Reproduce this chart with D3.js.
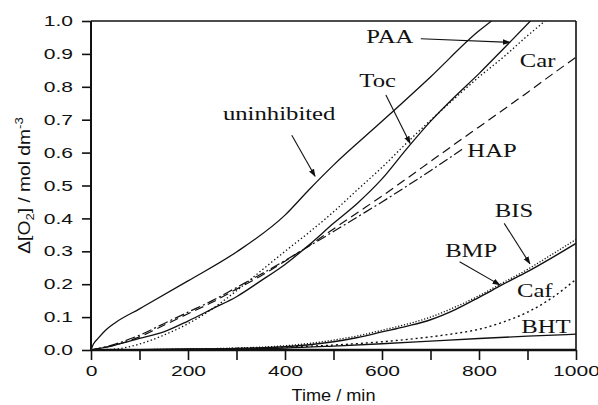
<!DOCTYPE html>
<html>
<head>
<meta charset="utf-8">
<script src="https://cdn.jsdelivr.net/npm/d3@7"></script>
<style>
  html, body { margin: 0; padding: 0; background: #fff; }
</style>
</head>
<body>
<svg id="chart" width="598" height="405"></svg>
<script>
// series values: [time / min, Δ[O2] / mol dm-3]
const uninhibited = [[0,0],[5,0.018],[15,0.036],[30,0.06],[50,0.083],[100,0.125],[200,0.21],[300,0.298],[400,0.41],[450,0.488],[500,0.562],[600,0.695],[700,0.83],[800,0.97],[826,1.0]];
const paa = [[0,0],[50,0.015],[100,0.035],[150,0.055],[200,0.088],[250,0.125],[300,0.162],[350,0.21],[400,0.26],[450,0.32],[500,0.385],[550,0.447],[600,0.52],[650,0.61],[700,0.695],[750,0.77],[800,0.84],[850,0.915],[906,1.0]];
const toc = [[0,0],[50,0.003],[100,0.018],[150,0.045],[200,0.08],[250,0.125],[300,0.18],[350,0.24],[400,0.30],[450,0.358],[500,0.42],[550,0.488],[600,0.555],[650,0.628],[700,0.698],[750,0.765],[800,0.83],[850,0.89],[900,0.955],[936,1.0]];
const car = [[0,0],[50,0.015],[100,0.04],[150,0.075],[200,0.11],[250,0.145],[300,0.185],[350,0.225],[400,0.27],[450,0.318],[500,0.368],[550,0.418],[600,0.468],[650,0.52],[700,0.573],[750,0.626],[800,0.678],[850,0.73],[900,0.783],[950,0.837],[1000,0.89]];
const hap = [[0,0],[50,0.018],[100,0.045],[150,0.08],[200,0.115],[250,0.15],[300,0.19],[350,0.23],[400,0.272],[450,0.316],[500,0.36],[550,0.405],[600,0.45],[650,0.497],[700,0.545],[765,0.61]];
const bis = [[0,0],[100,0.001],[200,0.003],[300,0.006],[400,0.013],[450,0.02],[500,0.03],[550,0.043],[600,0.06],[650,0.078],[700,0.1],[750,0.13],[800,0.165],[850,0.205],[900,0.245],[950,0.29],[1000,0.336]];
const bmp = [[0,0],[100,0.001],[200,0.003],[300,0.005],[400,0.01],[450,0.016],[500,0.025],[550,0.038],[600,0.055],[650,0.072],[700,0.092],[750,0.122],[800,0.16],[850,0.2],[900,0.238],[950,0.28],[1000,0.324]];
const caf = [[0,0],[200,0.002],[300,0.005],[400,0.009],[500,0.015],[600,0.025],[700,0.04],[750,0.05],[800,0.063],[850,0.085],[900,0.115],[950,0.158],[1000,0.215]];
const bht = [[0,0],[200,0.002],[300,0.003],[400,0.006],[500,0.012],[600,0.019],[700,0.027],[800,0.035],[900,0.042],[1000,0.048]];

const xTicks = [0, 100, 200, 300, 400, 500, 600, 700, 800, 900, 1000];
const yTicks = [0, 0.1, 0.2, 0.3, 0.4, 0.5, 0.6, 0.7, 0.8, 0.9, 1.0];

// line styles
const series = [
  { data: uninhibited, dash: null,        width: 1.3 },
  { data: paa,         dash: null,        width: 1.3 },
  { data: toc,         dash: '1.4,2.4',   width: 1.3 },
  { data: car,         dash: '9,5',       width: 1.2 },
  { data: hap,         dash: '10,3,2,3',  width: 1.2 },
  { data: bis,         dash: '1.2,1.8',   width: 1.3 },
  { data: bmp,         dash: null,        width: 1.4 },
  { data: caf,         dash: '2,3',       width: 1.4 },
  { data: bht,         dash: null,        width: 1.3 }
];

// annotations in data coords: text anchor + optional arrow
const notes = [
  { text: 'PAA',         x: 616, y: 0.933, arrow: [680, 0.946, 864, 0.935] },
  { text: 'Car',         x: 921, y: 0.86 },
  { text: 'Toc',         x: 591, y: 0.80,  arrow: [608, 0.775, 658, 0.628] },
  { text: 'uninhibited', x: 388, y: 0.70,  arrow: [414, 0.653, 462, 0.528] },
  { text: 'HAP',         x: 827, y: 0.587 },
  { text: 'BIS',         x: 872, y: 0.404, arrow: [852, 0.385, 905, 0.262] },
  { text: 'BMP',         x: 784, y: 0.283, arrow: [760, 0.268, 843, 0.198] },
  { text: 'Caf',         x: 915, y: 0.161 },
  { text: 'BHT',         x: 938, y: 0.052 }
];

const margin = { top: 21, right: 22, bottom: 55, left: 91 };
const W = 598, H = 405;
const iw = W - margin.left - margin.right;
const ih = H - margin.top - margin.bottom;

const svg = d3.select('#chart');
const g = svg.append('g').attr('transform', `translate(${margin.left},${margin.top})`);

const x = d3.scaleLinear().domain([0, 1000]).range([0, iw]);
const y = d3.scaleLinear().domain([0, 1]).range([ih, 0]);

// widen glyphs a bit, the original type is set wide
function stretch(sel, k) {
  sel.each(function() {
    const w = this.getComputedTextLength();
    d3.select(this).attr('textLength', w * k).attr('lengthAdjust', 'spacingAndGlyphs');
  });
}

svg.append('defs').append('clipPath').attr('id', 'plot')
  .append('rect').attr('width', iw).attr('height', ih);

svg.select('defs').append('marker')
  .attr('id', 'head')
  .attr('viewBox', '0 0 10 10')
  .attr('refX', 9).attr('refY', 5)
  .attr('markerWidth', 8).attr('markerHeight', 8)
  .attr('markerUnits', 'userSpaceOnUse')
  .attr('orient', 'auto')
  .append('path').attr('d', 'M0,1.5 L10,5 L0,8.5 Z').attr('fill', '#111');

// axes
const xAxis = g.append('g')
  .attr('transform', `translate(0,${ih})`)
  .call(d3.axisBottom(x).tickValues(xTicks).tickSize(10).tickPadding(6)
    .tickFormat(d => d % 200 === 0 ? d : ''));

const yAxis = g.append('g')
  .call(d3.axisLeft(y).tickValues(yTicks).tickSize(9).tickPadding(9)
    .tickFormat(d3.format('.1f')));

[xAxis, yAxis].forEach(a => {
  a.select('.domain').remove();
  a.selectAll('.tick line').attr('stroke', '#111').attr('stroke-width', 1.6);
  a.selectAll('.tick text')
    .attr('fill', '#111')
    .style('font-family', '"Liberation Sans", Arial, sans-serif')
    .style('font-size', '14.5px');
  stretch(a.selectAll('.tick text'), 1.45);
});

// frame
g.append('line').attr('x1', 0).attr('x2', iw).attr('y1', ih).attr('y2', ih)
  .attr('stroke', '#111').attr('stroke-width', 2.6);
g.append('line').attr('x1', 0).attr('x2', 0).attr('y1', 0).attr('y2', ih)
  .attr('stroke', '#111').attr('stroke-width', 2);
g.append('line').attr('x1', 0).attr('x2', iw).attr('y1', 0).attr('y2', 0)
  .attr('stroke', '#111').attr('stroke-width', 1.6);
g.append('line').attr('x1', iw).attr('x2', iw).attr('y1', 0).attr('y2', ih)
  .attr('stroke', '#111').attr('stroke-width', 1.6);

// curves
const line = d3.line()
  .x(d => x(d[0]))
  .y(d => y(d[1]))
  .curve(d3.curveMonotoneX);

g.append('g').attr('clip-path', 'url(#plot)')
  .selectAll('path')
  .data(series)
  .enter()
  .append('path')
  .attr('d', d => line(d.data))
  .attr('fill', 'none')
  .attr('stroke', '#111')
  .attr('stroke-width', d => d.width)
  .attr('stroke-dasharray', d => d.dash);

// labels + arrows
const noteG = g.append('g');
noteG.selectAll('line')
  .data(notes.filter(n => n.arrow))
  .enter()
  .append('line')
  .attr('x1', d => x(d.arrow[0])).attr('y1', d => y(d.arrow[1]))
  .attr('x2', d => x(d.arrow[2])).attr('y2', d => y(d.arrow[3]))
  .attr('stroke', '#111').attr('stroke-width', 1.1)
  .attr('marker-end', 'url(#head)');

const noteText = noteG.selectAll('text')
  .data(notes)
  .enter()
  .append('text')
  .attr('x', d => x(d.x))
  .attr('y', d => y(d.y))
  .attr('text-anchor', 'middle')
  .attr('fill', '#111')
  .style('font-family', '"Liberation Serif", "Times New Roman", serif')
  .style('font-size', '19px')
  .text(d => d.text);
stretch(noteText, 1.3);

// axis titles
const xt = svg.append('text')
  .attr('x', margin.left + iw / 2)
  .attr('y', 401)
  .attr('text-anchor', 'middle')
  .attr('fill', '#111')
  .style('font-family', '"Liberation Sans", Arial, sans-serif')
  .style('font-size', '16.5px')
  .text('Time / min');
stretch(xt, 1.1);

const yt = svg.append('text')
  .attr('transform', `translate(30,${margin.top + ih / 2}) rotate(-90)`)
  .attr('text-anchor', 'middle')
  .attr('fill', '#111')
  .style('font-family', '"Liberation Sans", Arial, sans-serif')
  .style('font-size', '16px');
yt.append('tspan').text('Δ[O');
yt.append('tspan').attr('dy', 4).style('font-size', '11px').text('2');
yt.append('tspan').attr('dy', -4).text('] / mol dm');
yt.append('tspan').attr('dy', -7).style('font-size', '11px').text('-3');
stretch(yt, 1.2);
</script>
</body>
</html>
